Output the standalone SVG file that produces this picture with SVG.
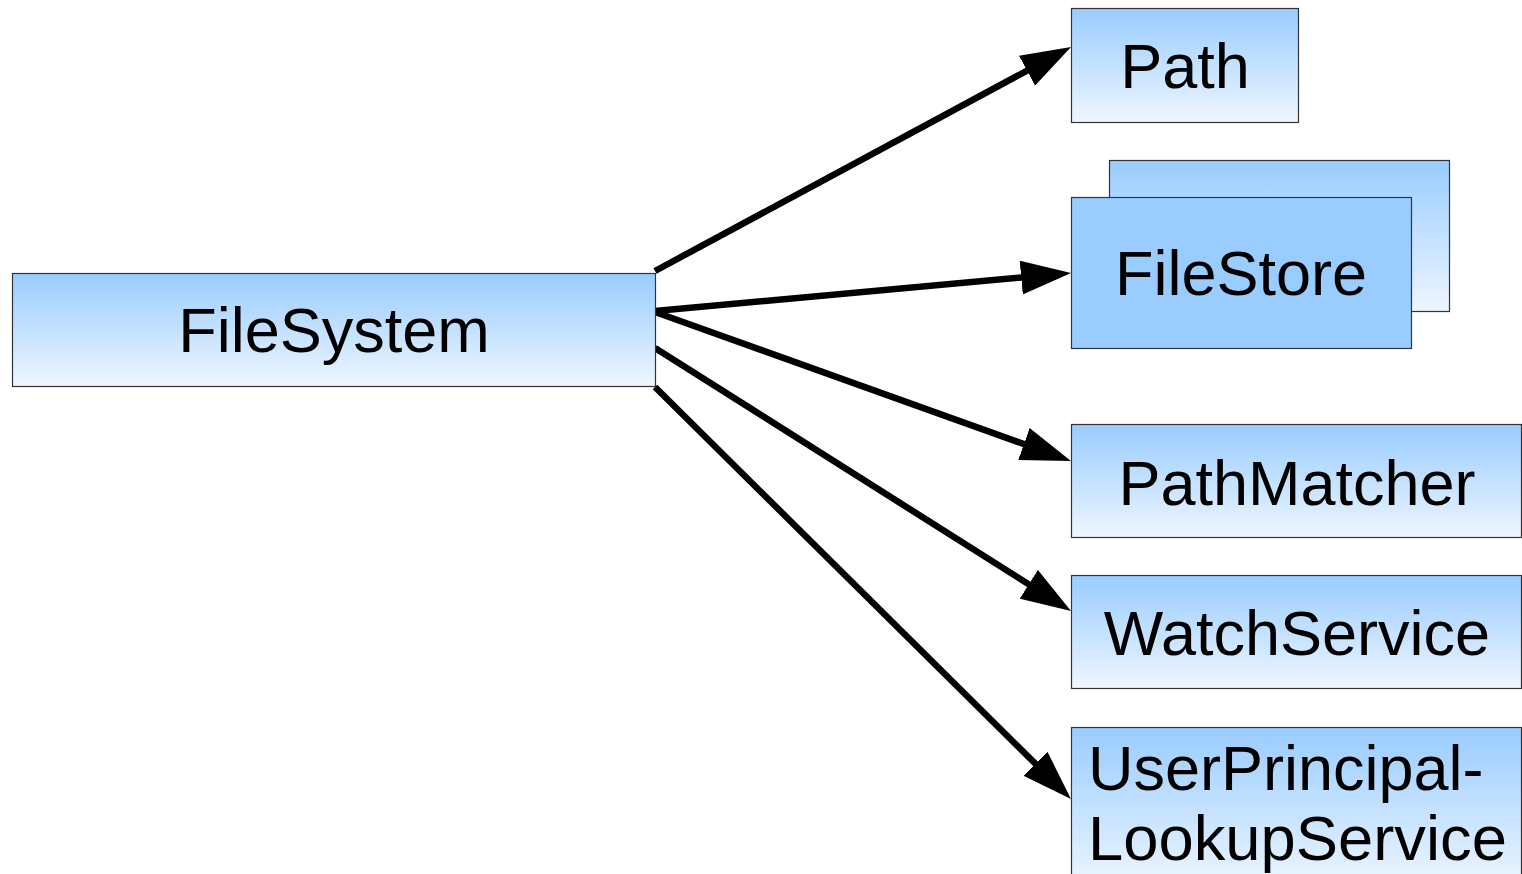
<svg xmlns="http://www.w3.org/2000/svg" width="1522" height="874" viewBox="0 0 1522 874">
  <defs>
    <linearGradient id="blueFade" x1="0" y1="0" x2="0" y2="1">
      <stop offset="0" stop-color="#99ccff"/>
      <stop offset="1" stop-color="#eef6ff"/>
    </linearGradient>
    <!-- arrowhead: line ends 5px inside the base, tip 45px beyond the line end -->
    <marker id="arrowHead" viewBox="0 0 50 34" refX="5" refY="17" markerWidth="50" markerHeight="34" markerUnits="userSpaceOnUse" orient="auto">
      <path d="M0,0 L50,17 L0,34 Z" fill="#000"/>
    </marker>
    <style>
      .box { fill: url(#blueFade); stroke: #333; stroke-width: 1.2; }
      .solid { fill: #99ccff; stroke: #333; stroke-width: 1.2; }
      .label { font-family: "Liberation Sans", Arial, sans-serif; font-size: 63px; fill: #000; }
      .mid { text-anchor: middle; }
      .edge { stroke: #000; stroke-width: 6.5; fill: none; marker-end: url(#arrowHead); }
    </style>
  </defs>
  <rect width="1522" height="874" fill="#fff"/>

  <g id="connectors">
    <line class="edge" x1="655" y1="271" x2="1031.4" y2="68.3"/>
    <line class="edge" x1="655" y1="311" x2="1026.2" y2="277.1"/>
    <line class="edge" x1="655" y1="312" x2="1028.6" y2="445.8"/>
    <line class="edge" x1="655" y1="348" x2="1033.0" y2="587.0"/>
    <line class="edge" x1="655" y1="387" x2="1039.0" y2="767.3"/>
  </g>

  <g id="filesystem">
    <rect class="box" x="12.5" y="273.5" width="643" height="113"/>
    <text class="label mid" x="334" y="352">FileSystem</text>
  </g>

  <g id="path">
    <rect class="box" x="1071.5" y="8.5" width="227" height="114"/>
    <text class="label mid" x="1185" y="88">Path</text>
  </g>

  <g id="filestore">
    <rect class="box" x="1109.5" y="160.5" width="340" height="151"/>
    <rect class="solid" x="1071.5" y="197.5" width="340" height="151"/>
    <text class="label mid" x="1241" y="295">FileStore</text>
  </g>

  <g id="pathmatcher">
    <rect class="box" x="1071.5" y="424.5" width="450" height="113"/>
    <text class="label mid" x="1297" y="505">PathMatcher</text>
  </g>

  <g id="watchservice">
    <rect class="box" x="1071.5" y="575.5" width="450" height="113"/>
    <text class="label mid" x="1297" y="655">WatchService</text>
  </g>

  <g id="userprincipallookupservice">
    <rect class="box" x="1071.5" y="727.5" width="450" height="160"/>
    <text class="label" x="1088" y="790">UserPrincipal-</text>
    <text class="label" x="1088" y="860" textLength="419" lengthAdjust="spacingAndGlyphs">LookupService</text>
  </g>
</svg>
